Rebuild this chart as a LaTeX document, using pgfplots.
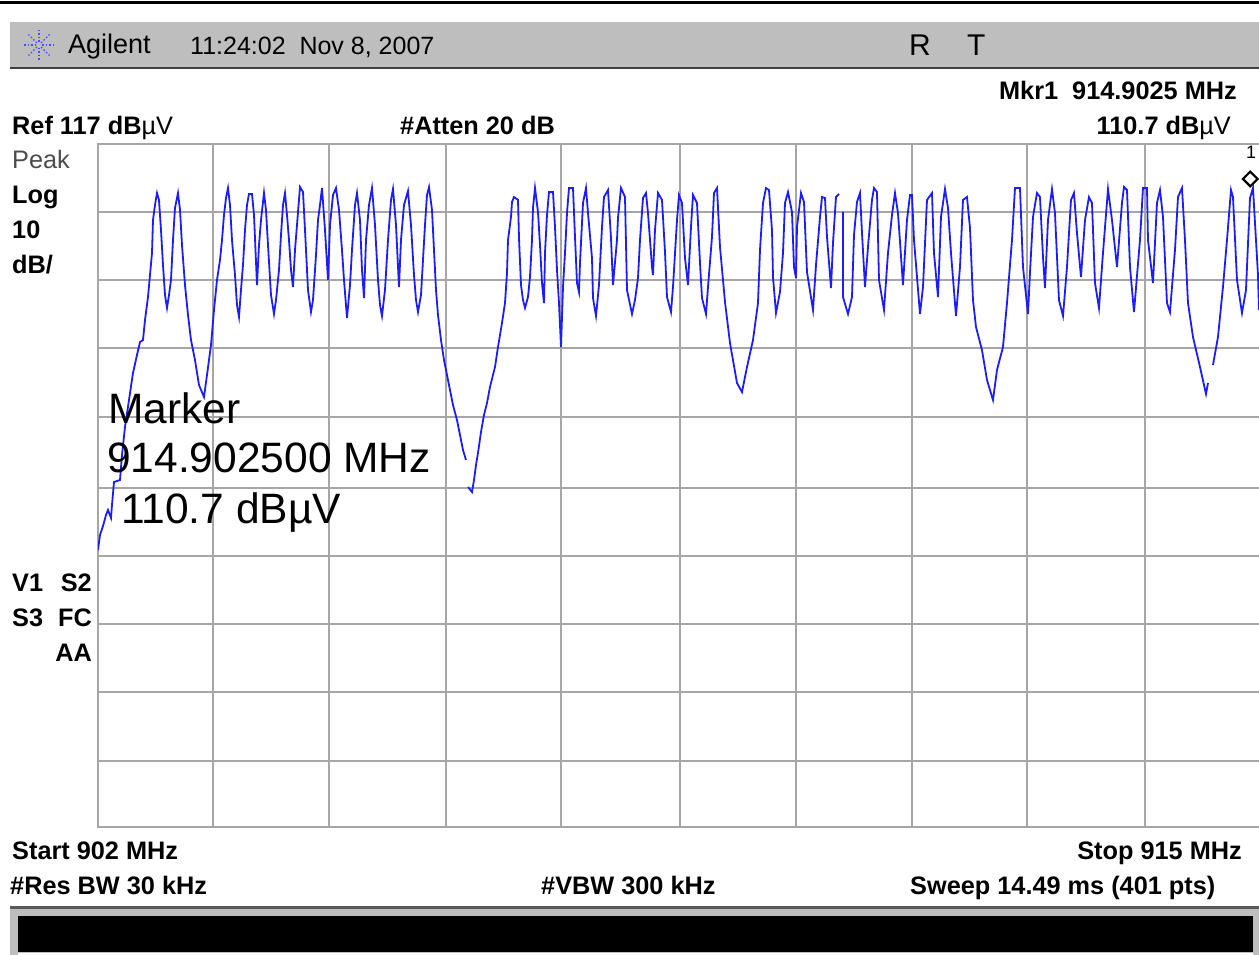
\documentclass[border=0pt]{standalone}
\usepackage{pgfplots}
\pgfplotsset{compat=1.18}
\usepackage{pgfplotstable}
\usepackage{fontspec}
\usetikzlibrary{plotmarks}
\setmainfont{Liberation Sans}
\definecolor{band}{HTML}{BEBEBE}
\definecolor{gridg}{HTML}{A6A6A6}
\definecolor{tr}{HTML}{1C1CFF}
% trace readings: position on the screen (px, py); converted to MHz and dBuV by the plot options
\pgfplotstableread[row sep=\\]{
px py\\
98 550\\100 535\\103 526\\106 515\\108 510\\111 518\\112 505\\114 482\\120 480\\122 455\\125 427\\129 400\\133 373\\137 355\\140 342\\143 340\\145 320\\148 297\\150 275\\152 253\\153 220\\155 205\\157 193\\159 200\\161 230\\163 265\\165 295\\167 308\\169 295\\171 280\\173 240\\175 208\\178 193\\180 210\\182 245\\185 285\\188 315\\191 340\\195 360\\199 385\\204 397\\207 375\\211 345\\214 310\\217 280\\220 260\\222 240\\224 215\\226 198\\228 188\\230 205\\232 240\\235 275\\237 305\\239 317\\241 290\\243 265\\245 230\\247 205\\249 194\\252 194\\254 215\\257 285\\259 245\\261 220\\264 193\\266 210\\268 245\\271 295\\274 314\\276 300\\279 270\\281 235\\283 205\\285 193\\287 215\\289 240\\291 270\\293 287\\295 250\\297 225\\300 187\\303 192\\305 230\\308 290\\311 312\\313 300\\316 255\\318 220\\320 205\\322 188\\325 230\\328 280\\330 225\\333 195\\336 188\\339 210\\342 250\\344 280\\347 318\\350 285\\352 250\\355 205\\357 193\\360 220\\362 270\\364 298\\366 240\\369 205\\372 188\\375 225\\378 280\\380 305\\382 316\\385 290\\388 240\\391 200\\393 189\\396 225\\399 287\\401 240\\404 205\\408 191\\411 225\\414 275\\416 300\\418 312\\421 295\\423 260\\425 225\\427 195\\429 187\\432 210\\434 250\\436 290\\438 315\\441 340\\444 360\\448 380\\453 405\\457 420\\461 440\\463 450\\466 460\\
}\segA
\pgfplotstableread[row sep=\\]{
px py\\
468 487\\472 492\\474 480\\476 465\\478 453\\481 432\\484 415\\487 403\\490 387\\495 367\\498 347\\502 323\\505 303\\507 273\\508 240\\511 217\\512 202\\514 197\\518 200\\519 238\\521 285\\523 300\\525 308\\528 297\\530 277\\532 240\\533 208\\535 188\\538 212\\540 245\\542 283\\544 303\\545 253\\547 215\\549 192\\553 192\\555 227\\557 270\\559 303\\561 347\\563 287\\565 253\\567 213\\569 188\\573 188\\575 237\\577 283\\579 292\\580 263\\583 203\\586 188\\588 213\\592 258\\593 298\\596 316\\599 285\\602 227\\604 197\\608 190\\611 238\\613 285\\617 240\\618 218\\621 188\\625 197\\627 290\\632 314\\635 300\\638 278\\640 240\\643 198\\646 193\\648 213\\652 267\\653 275\\655 230\\658 193\\662 200\\665 252\\667 297\\671 312\\673 287\\677 220\\679 195\\682 203\\685 258\\688 285\\691 227\\693 195\\697 203\\700 263\\702 298\\706 314\\708 287\\712 237\\714 193\\717 188\\720 247\\725 302\\730 343\\737 383\\742 392\\747 367\\753 340\\758 303\\760 250\\763 203\\766 188\\769 190\\772 230\\773 277\\776 313\\780 292\\783 253\\785 203\\788 192\\792 212\\794 267\\796 278\\797 227\\801 193\\804 202\\807 272\\813 310\\816 265\\820 217\\822 197\\825 198\\827 237\\831 288\\833 243\\836 197\\839 194\\
}\segB
\pgfplotstableread[row sep=\\]{
px py\\
843 212\\843 297\\848 314\\852 297\\854 235\\857 202\\860 193\\862 233\\865 287\\868 247\\872 200\\874 188\\877 192\\879 280\\884 310\\888 253\\892 215\\895 193\\898 213\\903 285\\907 220\\910 195\\912 195\\914 240\\920 314\\923 287\\927 200\\932 193\\934 253\\938 297\\941 217\\945 189\\948 208\\951 253\\956 316\\960 267\\963 200\\967 197\\970 228\\973 300\\976 327\\982 350\\987 380\\993 400\\997 370\\1003 347\\1007 303\\1012 240\\1015 188\\1020 188\\1023 267\\1028 314\\1030 273\\1033 217\\1037 193\\1040 197\\1043 257\\1045 288\\1048 220\\1052 189\\1055 213\\1059 300\\1063 316\\1067 267\\1071 200\\1074 193\\1077 233\\1081 277\\1085 220\\1089 197\\1092 203\\1095 283\\1099 308\\1103 253\\1108 189\\1112 220\\1117 267\\1122 203\\1124 187\\1127 190\\1130 267\\1134 312\\1140 240\\1143 188\\1147 188\\1148 240\\1153 283\\1157 203\\1160 190\\1163 217\\1167 303\\1170 312\\1175 250\\1178 197\\1182 188\\1185 240\\1188 303\\1193 337\\1200 367\\1206 394\\1208 383\\
}\segC
\pgfplotstableread[row sep=\\]{
px py\\
1213 365\\1218 337\\1223 287\\1227 240\\1231 190\\1233 197\\1237 280\\1242 313\\1246 290\\1250 198\\1253 188\\1258 275\\1259 310\\
}\segD
\newcommand{\lab}[5][25.3]{\node[anchor=base #2,inner sep=0pt,font=\fontsize{#1}{#1}\selectfont] at (#3,-#4) {#5};}
\newcommand{\blab}[4]{\lab{#1}{#2}{#3}{\textbf{#4}}}
\tikzset{trc/.style={tr,line width=1.8pt,mark=none,line join=miter}}
\begin{document}
\begin{tikzpicture}[x=1pt,y=1pt]
\path[use as bounding box] (0,0) rectangle (1259,-955);
% header and footer
\fill[black] (0,-1) rectangle (1259,-4);
\fill[band] (10,-22) rectangle (1259,-67);
\fill[black!75] (10,-67) rectangle (1259,-69);
\fill[black!65] (10,-906) rectangle (1259,-908.5);
\fill[band] (10,-908.5) rectangle (1259,-955);
\fill[black] (18,-916) rectangle (1253,-952);
\fill[white] (18,-953) rectangle (1253,-955);
% agilent spark
\foreach \a in {0,45,...,315}{\draw[blue!70,line width=1.4pt,dash pattern=on 1.5pt off 2pt] (39,-45) ++(\a:3) -- ++(\a:12);}
\begin{axis}[at={(98pt,-144pt)},anchor=north west,scale only axis,width=1165pt,height=683pt,
  xmin=902,xmax=915.0448,ymin=17,ymax=117,
  xtick={903.288,904.587,905.897,907.184,908.517,909.816,911.114,912.402,913.723},
  ytick={107.04,97.09,87.13,77.03,66.63,56.68,46.72,36.77,26.66},
  xticklabels={},yticklabels={},major tick length=0pt,
  grid=major,grid style={gridg,line width=1.6pt},
  axis line style={gridg,line width=2.8pt},
  clip=true]
\addplot[trc] table[x expr=902+(\thisrow{px}-98)*13/1161,y expr=117-(\thisrow{py}-144)/6.83]{\segA};
\addplot[trc] table[x expr=902+(\thisrow{px}-98)*13/1161,y expr=117-(\thisrow{py}-144)/6.83]{\segB};
\addplot[trc] table[x expr=902+(\thisrow{px}-98)*13/1161,y expr=117-(\thisrow{py}-144)/6.83]{\segC};
\addplot[trc] table[x expr=902+(\thisrow{px}-98)*13/1161,y expr=117-(\thisrow{py}-144)/6.83]{\segD};
\addplot[only marks,mark=square*,mark size=5.2pt,mark options={rotate=45,draw=black,fill=white,line width=2.2pt}] coordinates {(914.9025,111.88)};
\end{axis}
% texts
\lab[27]{west}{68}{54}{Agilent}
\lab[25]{west}{190}{55}{11:24:02\ \ Nov 8, 2007}
\lab[30]{west}{909}{56}{R}
\lab[30]{west}{967}{56}{T}
\blab{east}{1237}{100}{Mkr1\ \ 914.9025 MHz}
\node[anchor=base west,inner sep=0pt,font=\fontsize{25.3}{25.3}\selectfont] at (12,-135) {\textbf{Ref 117 dB}µV};
\blab{west}{400}{135}{\#Atten 20 dB}
\node[anchor=base east,inner sep=0pt,font=\fontsize{25.3}{25.3}\selectfont] at (1231,-135) {\textbf{110.7 dB}µV};
\lab[18]{west}{1246}{159}{1}
\node[anchor=base west,inner sep=0pt,text=black!70,font=\fontsize{25.3}{25.3}\selectfont] at (12,-168) {Peak};
\blab{west}{12}{204}{Log}
\blab{west}{12}{238}{10}
\blab{west}{12}{273}{dB/}
\blab{west}{12}{591}{V1}
\blab{east}{92}{591}{S2}
\blab{west}{12}{626}{S3}
\blab{east}{92}{626}{FC}
\blab{east}{92}{661}{AA}
\blab{west}{12}{859}{Start 902 MHz}
\blab{east}{1242}{859}{Stop 915 MHz}
\blab{west}{10}{894}{\#Res BW 30 kHz}
\blab{west}{541}{894}{\#VBW 300 kHz}
\blab{west}{910}{894}{Sweep 14.49 ms (401 pts)}
\lab[42.5]{west}{108}{423}{Marker}
\lab[42.5]{west}{107}{472}{914.902500 MHz}
\lab[42.5]{west}{121}{523}{110.7 dBµV}
\end{tikzpicture}
\end{document}
